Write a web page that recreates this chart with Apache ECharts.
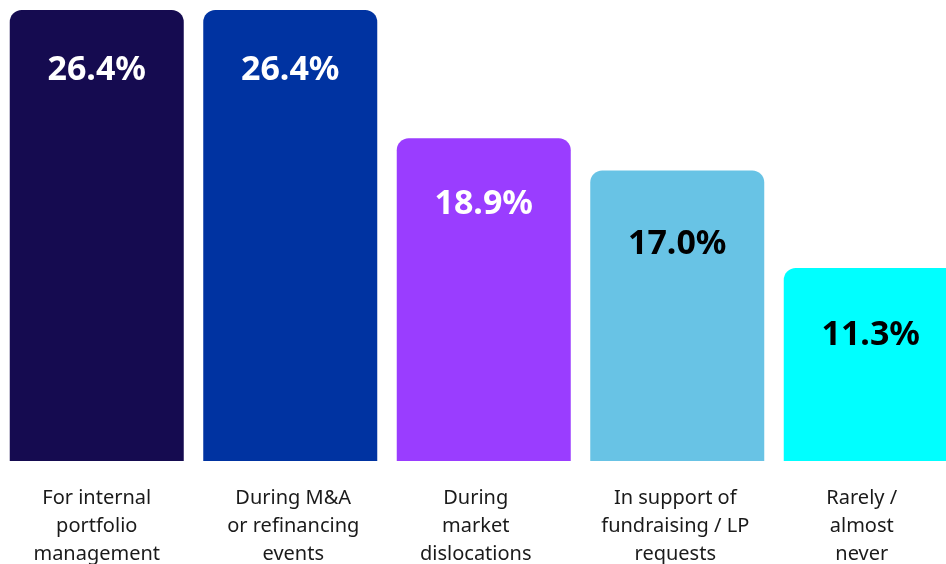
<!DOCTYPE html>
<html>
<head>
<meta charset="utf-8">
<script src="https://cdn.jsdelivr.net/npm/echarts@6/dist/echarts.min.js"></script>
<style>html,body{margin:0;padding:0;background:#fff}#c{width:946px;height:564px}</style>
</head>
<body>
<div id="c"></div>
<script>
const categories = [
  'For internal\nportfolio\nmanagement',
  'During M&A\nor refinancing\nevents',
  'During\nmarket\ndislocations',
  'In support of\nfundraising / LP\nrequests',
  'Rarely /\nalmost\nnever'
];
const values = [26.4, 26.4, 18.9, 17.0, 11.3];
const barColors = ['#150b50', '#0033a1', '#9a3dff', '#68c3e5', '#00ffff'];
const labelColors = ['#ffffff', '#ffffff', '#ffffff', '#000000', '#000000'];
// styling only: inside-label offsets and category label paddings
const labelDistances = [43, 43, 49, 57, 50];
const catPaddings = [[0, 0, 0, 0], [0, 0, 0, 6], [0, 16, 0, 0], [0, 4, 0, 0], [0, 18, 0, 0]];

const chart = echarts.init(document.getElementById('c'), null, {renderer: 'canvas'});
chart.setOption({
  animation: false,
  backgroundColor: '#ffffff',
  grid: {left: 0, top: 10, right: -21.5, bottom: 103, containLabel: false, outerBoundsMode: 'none'},
  xAxis: {
    type: 'category',
    data: categories.map((c, i) => ({value: c, textStyle: {padding: catPaddings[i]}})),
    axisLine: {show: false},
    axisTick: {show: false},
    axisLabel: {
      interval: 0,
      margin: 23,
      fontFamily: 'Noto Sans',
      fontSize: 20,
      lineHeight: 28,
      color: '#1a1a1a',
      align: 'center'
    }
  },
  yAxis: {type: 'value', min: 0, max: 26.4, show: false, splitLine: {show: false}},
  series: [{
    type: 'bar',
    barWidth: 174,
    data: values.map((v, i) => ({
      value: v,
      itemStyle: {color: barColors[i], borderRadius: [12, 12, 0, 0]},
      label: {color: labelColors[i], distance: labelDistances[i]}
    })),
    label: {
      show: true,
      position: 'insideTop',
      distance: 48,
      fontFamily: 'Noto Sans',
      fontWeight: 'bold',
      fontSize: 34,
      lineHeight: 34,
      formatter: p => p.value.toFixed(1) + '%'
    }
  }]
});
</script>
</body>
</html>
